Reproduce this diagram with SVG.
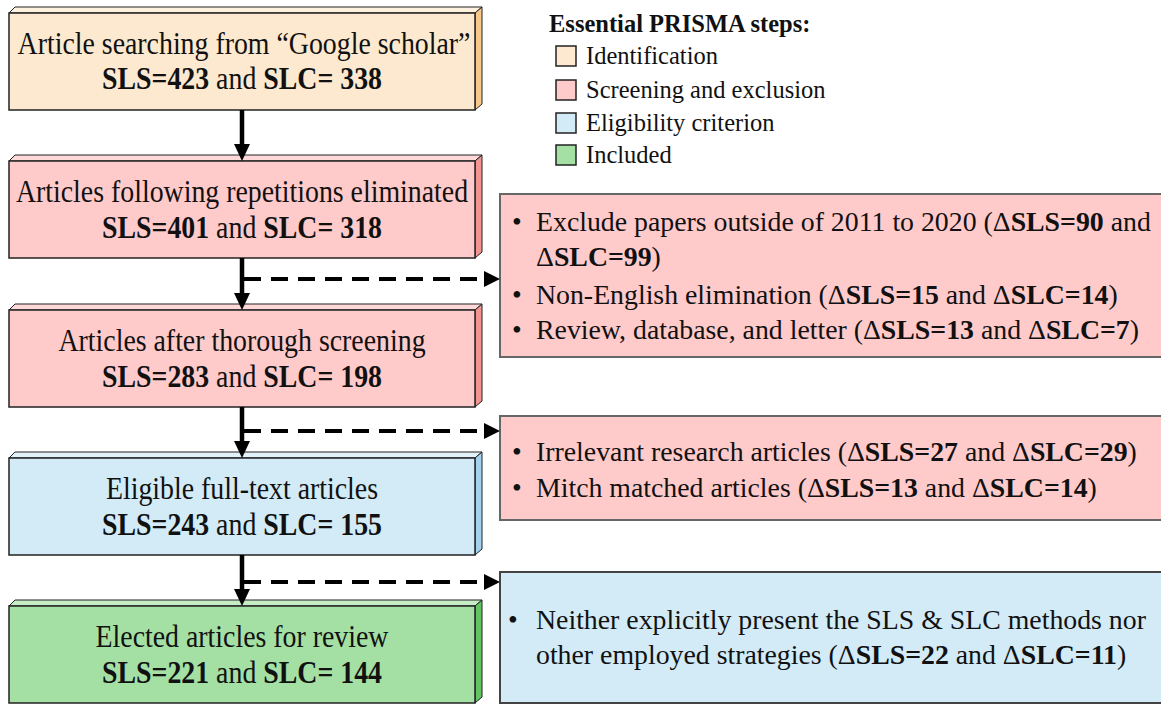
<svg xmlns="http://www.w3.org/2000/svg" width="1161" height="705" viewBox="0 0 1161 705" font-family="'Liberation Serif', 'Times New Roman', Times, serif">
  <defs>
    <style>
      text { font-family: "Liberation Serif", "Times New Roman", Times, serif; fill: #111; }
      .main { font-size: 32px; text-anchor: middle; }
      .side { font-size: 27.8px; }
      .leg { font-size: 24.5px; }
      .b { font-weight: bold; }
      .front { stroke: #222; stroke-width: 1.5; }
      .bevel { stroke: #222; stroke-width: 1; stroke-linejoin: round; }
      .note { stroke: #666; stroke-width: 2; }
      .flow { stroke: #000; stroke-width: 4.5; fill: none; }
      .skip { stroke: #000; stroke-width: 4; fill: none; stroke-dasharray: 17 10; }
      .id { fill: #FCE9CF; }
      .id-top { fill: #FEF1DE; }
      .id-side { fill: #F7C88A; }
      .sc { fill: #FFCACA; }
      .sc-top { fill: #FFD9D9; }
      .sc-side { fill: #F2948F; }
      .el { fill: #D2EBF7; }
      .el-top { fill: #E2F2FB; }
      .el-side { fill: #A3D2EF; }
      .in { fill: #A4E0A4; }
      .in-top { fill: #C6ECC6; }
      .in-side { fill: #62C462; }
    </style>
  </defs>

  <!-- legend -->
  <g id="legend">
    <text class="leg b" x="549" y="32">Essential PRISMA steps:</text>
    <rect class="id" x="556" y="46" width="20" height="20" stroke="#222" stroke-width="1.5"/>
    <text class="leg" x="586" y="64">Identification</text>
    <rect class="sc" x="556" y="80" width="20" height="20" stroke="#222" stroke-width="1.5"/>
    <text class="leg" x="586" y="98">Screening and exclusion</text>
    <rect class="el" x="556" y="113" width="20" height="20" stroke="#222" stroke-width="1.5"/>
    <text class="leg" x="586" y="131">Eligibility criterion</text>
    <rect class="in" x="556" y="145" width="20" height="20" stroke="#222" stroke-width="1.5"/>
    <text class="leg" x="586" y="163">Included</text>
  </g>

  <!-- flow boxes (main labels are set in a narrowed serif) -->
  <g id="box-identification">
    <polygon class="id-top bevel" points="9,13 15,7 482,7 475,13"/>
    <polygon class="id-side bevel" points="475,13 482,7 482,104 475,110"/>
    <rect class="id front" x="9" y="13" width="466" height="97"/>
    <text class="main" transform="translate(244,54) scale(0.87,1)">Article searching from “Google scholar”</text>
    <text class="main" transform="translate(242,89) scale(0.87,1)"><tspan class="b">SLS=423</tspan> and <tspan class="b">SLC= 338</tspan></text>
  </g>

  <g id="box-duplicates">
    <polygon class="sc-top bevel" points="9,161 15,155 482,155 475,161"/>
    <polygon class="sc-side bevel" points="475,161 482,155 482,252 475,258"/>
    <rect class="sc front" x="9" y="161" width="466" height="97"/>
    <text class="main" transform="translate(242,202) scale(0.87,1)">Articles following repetitions eliminated</text>
    <text class="main" transform="translate(242,238) scale(0.87,1)"><tspan class="b">SLS=401</tspan> and <tspan class="b">SLC= 318</tspan></text>
  </g>

  <g id="box-screening">
    <polygon class="sc-top bevel" points="9,310 15,304 482,304 475,310"/>
    <polygon class="sc-side bevel" points="475,310 482,304 482,401 475,407"/>
    <rect class="sc front" x="9" y="310" width="466" height="97"/>
    <text class="main" transform="translate(242,351) scale(0.87,1)">Articles after thorough screening</text>
    <text class="main" transform="translate(242,387) scale(0.87,1)"><tspan class="b">SLS=283</tspan> and <tspan class="b">SLC= 198</tspan></text>
  </g>

  <g id="box-eligible">
    <polygon class="el-top bevel" points="9,458 15,452 482,452 475,458"/>
    <polygon class="el-side bevel" points="475,458 482,452 482,549 475,555"/>
    <rect class="el front" x="9" y="458" width="466" height="97"/>
    <text class="main" transform="translate(242,499) scale(0.87,1)">Eligible full-text articles</text>
    <text class="main" transform="translate(242,535) scale(0.87,1)"><tspan class="b">SLS=243</tspan> and <tspan class="b">SLC= 155</tspan></text>
  </g>

  <g id="box-included">
    <polygon class="in-top bevel" points="9,606 15,600 482,600 475,606"/>
    <polygon class="in-side bevel" points="475,606 482,600 482,697 475,703"/>
    <rect class="in front" x="9" y="606" width="466" height="97"/>
    <text class="main" transform="translate(242,647) scale(0.87,1)">Elected articles for review</text>
    <text class="main" transform="translate(242,683) scale(0.87,1)"><tspan class="b">SLS=221</tspan> and <tspan class="b">SLC= 144</tspan></text>
  </g>

  <!-- exclusion notes -->
  <g id="note-screening">
    <rect class="sc note" x="500" y="194" width="670" height="163"/>
    <text class="side" x="512" y="231">• <tspan x="536">Exclude papers outside of 2011 to 2020 (Δ<tspan class="b">SLS=90</tspan> and</tspan></text>
    <text class="side" x="536" y="266">Δ<tspan class="b">SLC=99</tspan>)</text>
    <text class="side" x="512" y="304">• <tspan x="536">Non-English elimination (Δ<tspan class="b">SLS=15</tspan> and Δ<tspan class="b">SLC=14</tspan>)</tspan></text>
    <text class="side" x="512" y="339">• <tspan x="536">Review, database, and letter (Δ<tspan class="b">SLS=13</tspan> and Δ<tspan class="b">SLC=7</tspan>)</tspan></text>
  </g>

  <g id="note-eligibility">
    <rect class="sc note" x="500" y="416" width="670" height="104"/>
    <text class="side" x="512" y="461">• <tspan x="536">Irrelevant research articles (Δ<tspan class="b">SLS=27</tspan> and Δ<tspan class="b">SLC=29</tspan>)</tspan></text>
    <text class="side" x="512" y="497">• <tspan x="536">Mitch matched articles (Δ<tspan class="b">SLS=13</tspan> and Δ<tspan class="b">SLC=14</tspan>)</tspan></text>
  </g>

  <g id="note-included">
    <rect class="el" x="500" y="572" width="670" height="131" stroke="#444" stroke-width="2"/>
    <text class="side" x="508" y="629" font-size="20">•</text>
    <text class="side" x="536" y="629">Neither explicitly present the SLS &amp; SLC methods nor</text>
    <text class="side" x="536" y="664">other employed strategies (Δ<tspan class="b">SLS=22</tspan> and Δ<tspan class="b">SLC=11</tspan>)</text>
  </g>

  <!-- connectors -->
  <g id="connectors">
    <line class="flow" x1="242" y1="110" x2="242" y2="145"/>
    <polygon points="242,161 234,144 250,144"/>
    <line class="flow" x1="242" y1="258" x2="242" y2="294"/>
    <polygon points="242,310 234,293 250,293"/>
    <line class="flow" x1="242" y1="407" x2="242" y2="442"/>
    <polygon points="242,458 234,441 250,441"/>
    <line class="flow" x1="242" y1="555" x2="242" y2="590"/>
    <polygon points="242,606 234,589 250,589"/>

    <line class="skip" x1="244" y1="279" x2="486" y2="279"/>
    <polygon points="500,279 484,271 484,287"/>
    <line class="skip" x1="244" y1="431" x2="486" y2="431"/>
    <polygon points="500,431 484,423 484,439"/>
    <line class="skip" x1="244" y1="582" x2="486" y2="582"/>
    <polygon points="500,582 484,574 484,590"/>
  </g>
</svg>
